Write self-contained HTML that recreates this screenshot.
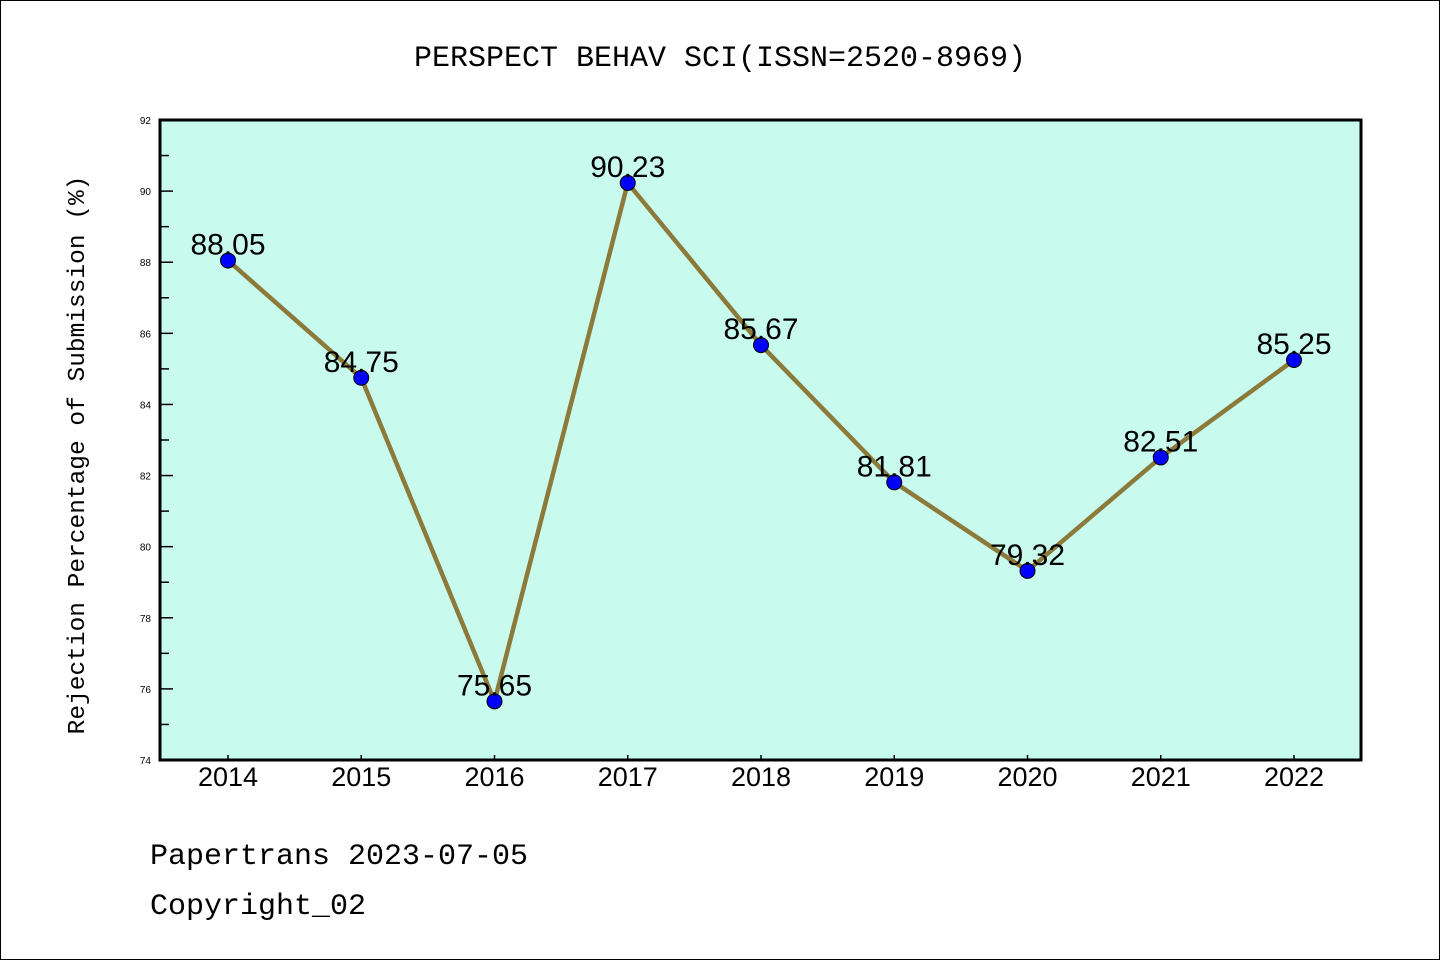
<!DOCTYPE html>
<html><head><meta charset="utf-8"><style>
html,body{margin:0;padding:0;background:#fff}
svg{display:block}
</style></head><body>
<svg id="chart" width="1440" height="960" xmlns="http://www.w3.org/2000/svg">
<rect x="0.5" y="0.5" width="1439" height="959" fill="#fff" stroke="#000"/>
<text x="720" y="66" text-anchor="middle" font-family="Liberation Mono, monospace" font-size="30">PERSPECT BEHAV SCI(ISSN=2520-8969)</text>
<rect x="160" y="120" width="1201" height="640" fill="#c8fbee"/>
<g id="yticks"></g>
<g id="xticks"></g>
<g id="series"></g>
<rect x="160" y="120" width="1201" height="640" fill="none" stroke="#000" stroke-width="3"/>
<text transform="translate(84,455) rotate(-90)" text-anchor="middle" font-family="Liberation Mono, monospace" font-size="24.5">Rejection Percentage of Submission (%)</text>
<text x="150" y="864" font-family="Liberation Mono, monospace" font-size="30">Papertrans 2023-07-05</text>
<text x="150" y="914" font-family="Liberation Mono, monospace" font-size="30">Copyright_02</text>
</svg>
<script>
const years = ['2014','2015','2016','2017','2018','2019','2020','2021','2022'];
const rates = [88.05, 84.75, 75.65, 90.23, 85.67, 81.81, 79.32, 82.51, 85.25];
const yTickLabels = [74, 76, 78, 80, 82, 84, 86, 88, 90, 92];
const NS = 'http://www.w3.org/2000/svg';
const yMin = 74, yMax = 92, plotTop = 120, plotBottom = 760;
function yScale(v){ return plotBottom - (v - yMin) / (yMax - yMin) * (plotBottom - plotTop); }
function xScale(i){ return 228 + i * 133.25; }
function mk(tag, attrs, parent){ const e = document.createElementNS(NS, tag); for (const k in attrs) e.setAttribute(k, attrs[k]); parent.appendChild(e); return e; }
const yg = document.getElementById('yticks');
yTickLabels.forEach(v => {
  const l = mk('line', {x1:160, x2:173, y1:yScale(v), y2:yScale(v), stroke:'#000', 'stroke-width':1.5}, yg);
  
  
  const t = mk('text', {x:151, y:yScale(v)+4, 'text-anchor':'end', 'font-family':'Liberation Sans, sans-serif', 'font-size':10}, yg);
  t.textContent = v;
  
  
  if (v < yMax) {
    const m = mk('line', {x1:160, x2:169, y1:yScale(v+1), y2:yScale(v+1), stroke:'#000', 'stroke-width':1.5}, yg);
    
    
  }
});
const xg = document.getElementById('xticks');
years.forEach((yr, i) => {
  const l = mk('line', {x1:xScale(i), x2:xScale(i), y1:760, y2:755, stroke:'#000', 'stroke-width':1.5}, xg);
  
  
  const t = mk('text', {x:xScale(i), y:786, 'text-anchor':'middle', 'font-family':'Liberation Sans, sans-serif', 'font-size':27}, xg);
  t.textContent = yr;
  
  
});
const sg = document.getElementById('series');
const pl = mk('polyline', {points: rates.map((v,i)=>xScale(i)+','+yScale(v)).join(' '), fill:'none', stroke:'#8c7a3a', 'stroke-width':4.5, 'stroke-linejoin':'round'}, sg);


rates.forEach((v, i) => {
  const c = mk('circle', {cx:xScale(i), cy:yScale(v), r:7.5, fill:'#0000ff', stroke:'#000', 'stroke-width':1}, sg);
  
  
  const t = mk('text', {x:xScale(i), y:yScale(v)-6, 'text-anchor':'middle', 'font-family':'Liberation Sans, sans-serif', 'font-size':30}, sg);
  t.textContent = v.toFixed(2);
  
  
});
</script>
</body></html>
